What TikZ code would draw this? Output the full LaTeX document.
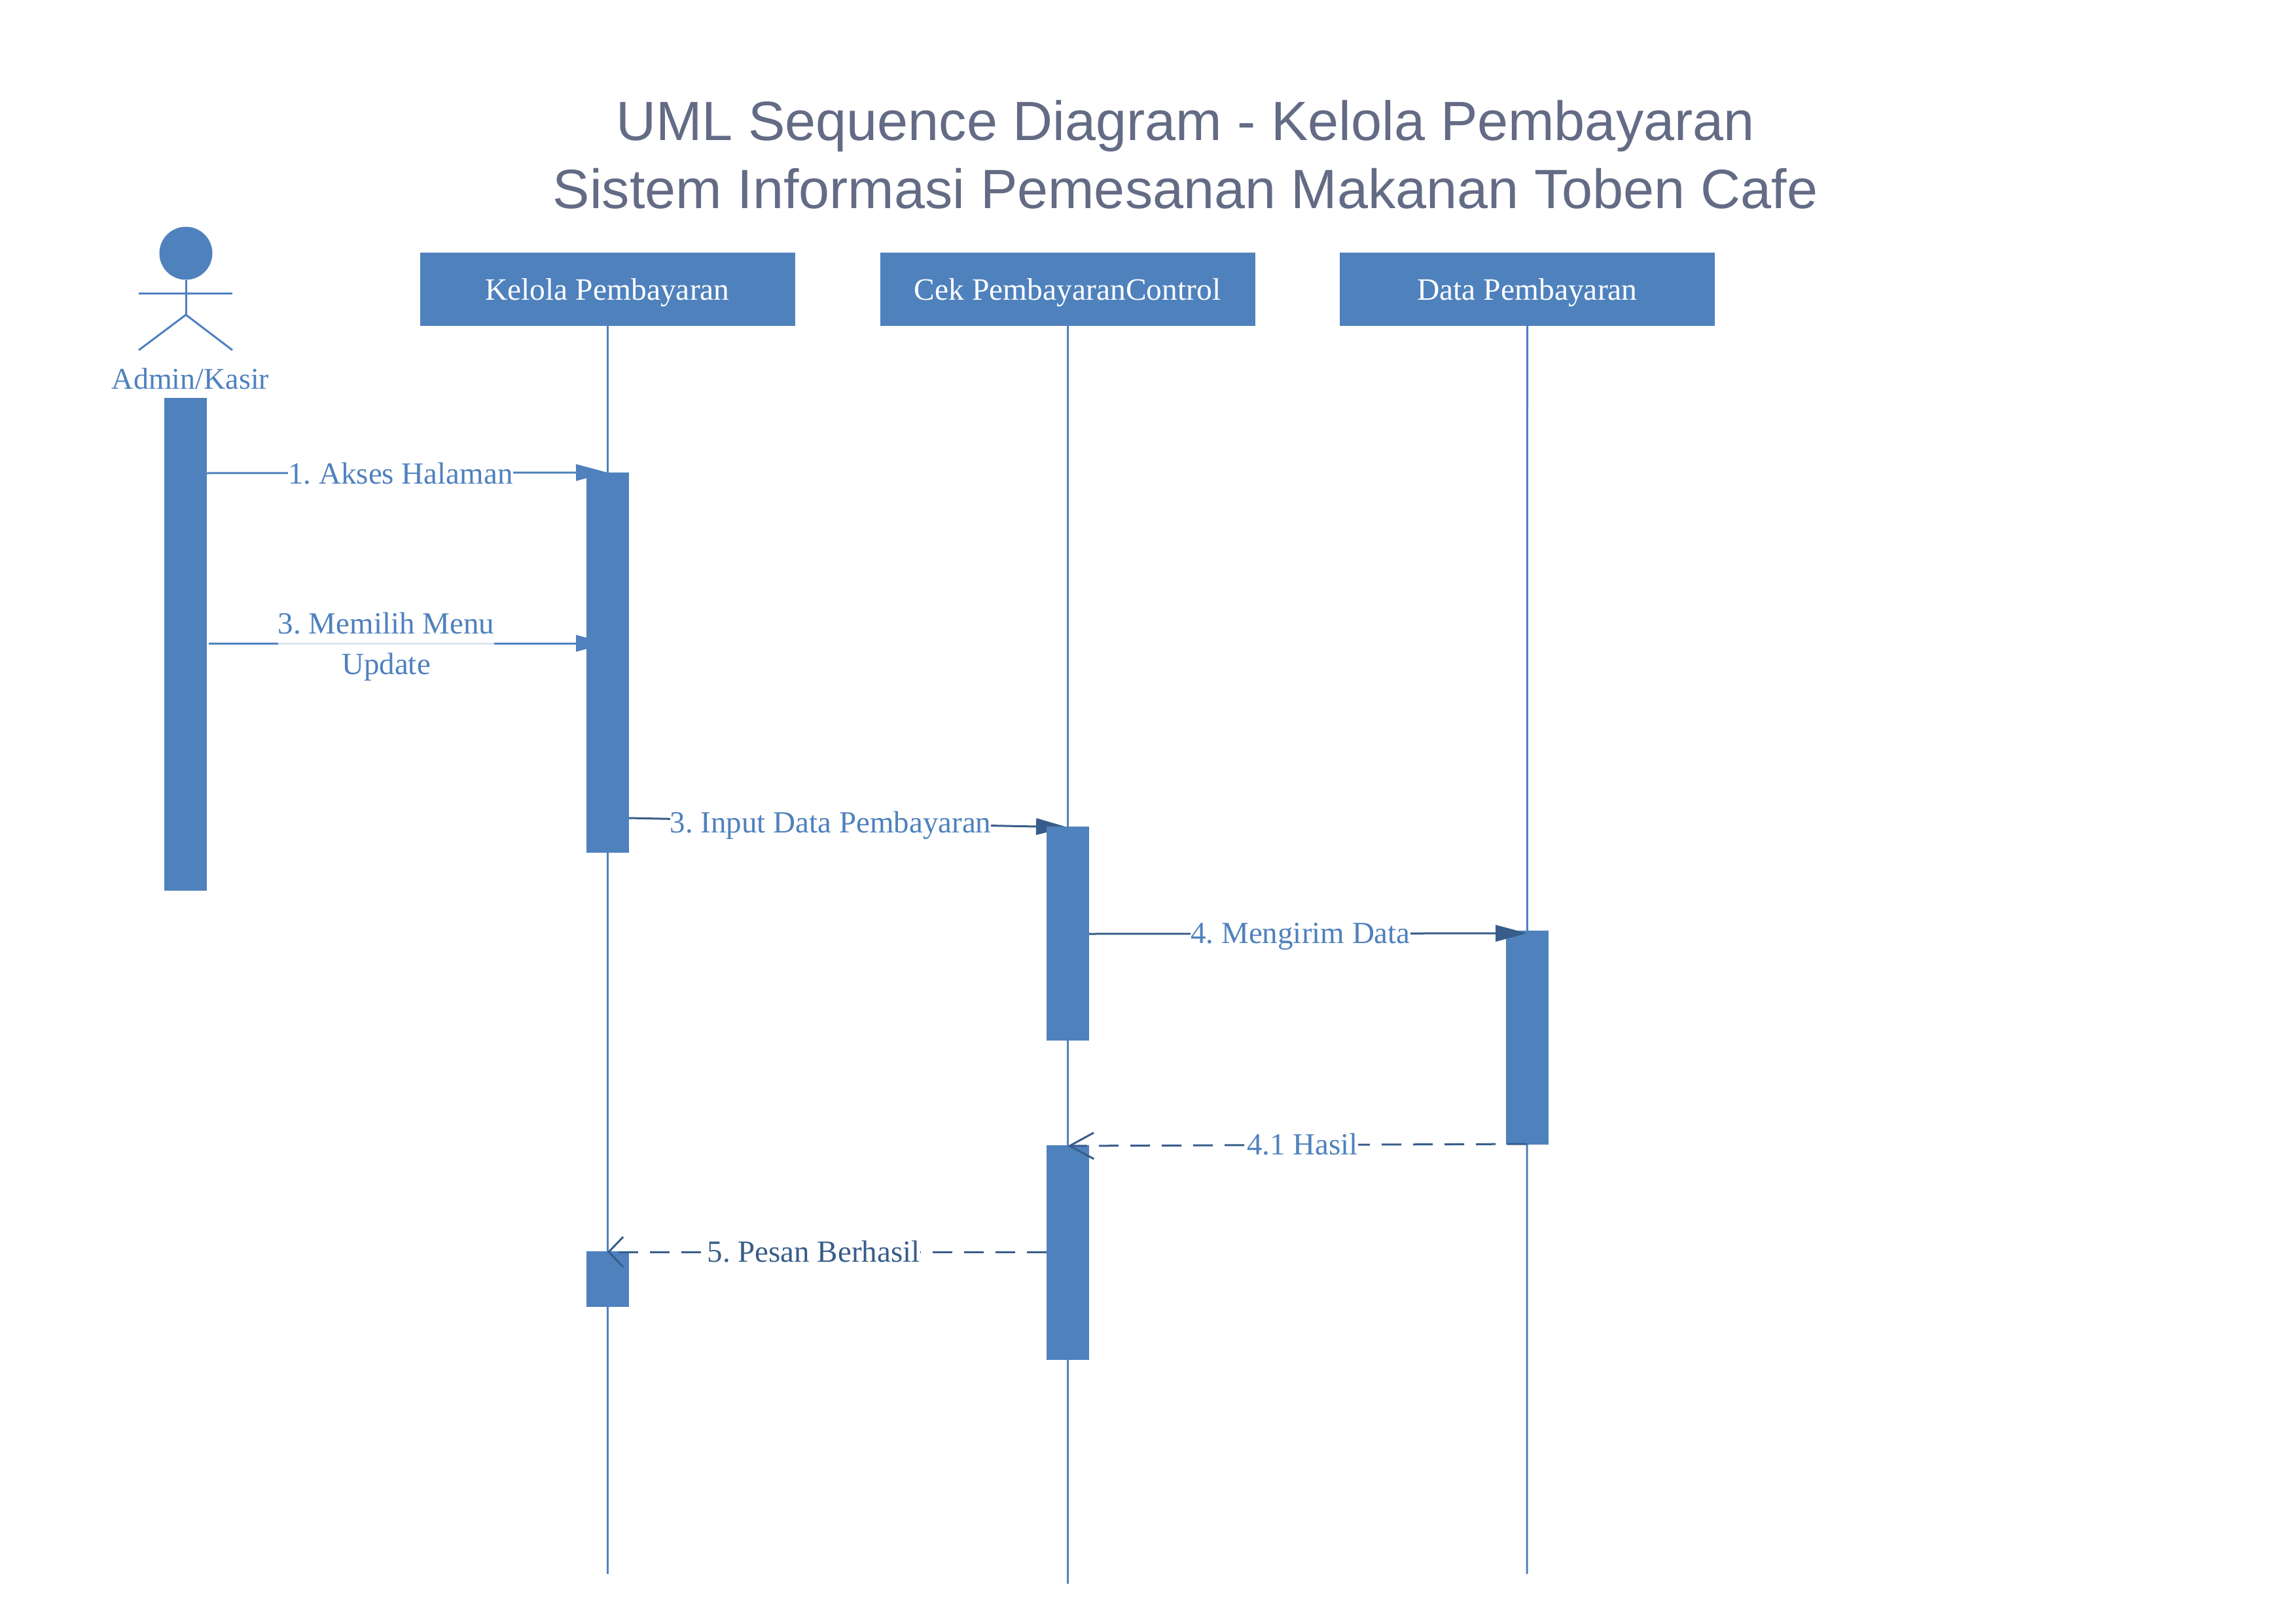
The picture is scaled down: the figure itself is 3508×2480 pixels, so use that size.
\documentclass[tikz,border=0pt]{standalone}
\usepackage{fontspec}
\setmainfont{Liberation Serif}
\newfontfamily\titlefont{Liberation Sans}
\usetikzlibrary{arrows.meta}
\definecolor{umlblue}{HTML}{4F81BD}
\definecolor{umldark}{HTML}{385D8A}
\definecolor{umltitle}{HTML}{636B85}
\newcommand{\boxtext}[1]{\raisebox{-16pt}[0pt][0pt]{#1}}
\tikzset{
  x=1pt,y=-1pt,
  lbl/.style={font=\frenchspacing\fontsize{47}{62}\selectfont,text=umlblue,inner sep=0pt,align=center},
  objbox/.style={rectangle,fill=umlblue,draw=none,minimum width=573pt,minimum height=112pt,inner sep=0pt,text=white,font=\frenchspacing\fontsize{47.5}{61}\selectfont},
  bar/.style={rectangle,fill=umlblue,draw=none,minimum width=65pt,inner sep=0pt,anchor=north},
  life/.style={draw=umlblue,line width=3pt},
  msgup/.style={draw=umlblue,line width=3pt,-{Triangle[length=48pt,width=25pt,color=umlblue]}},
  msg/.style={draw=umldark,line width=3pt,-{Triangle[length=48pt,width=25pt]}},
  ret/.style={draw=umldark,line width=3pt,dash pattern=on 30pt off 18pt},
  retA/.style={ret,-{Straight Barb[length=37pt,width=40pt]}},
  retB/.style={ret,-{Straight Barb[length=22pt,width=46pt]}},
  mlabel/.style={lbl,fill=white},
}
\begin{document}
\begin{tikzpicture}
\useasboundingbox (0,0) rectangle (3508,2480);
% title
\node[font=\titlefont\fontsize{84.6}{104}\selectfont,text=umltitle,align=center,anchor=center,inner sep=0pt] (title) at (1811,236) {UML Sequence Diagram - Kelola Pembayaran\\Sistem Informasi Pemesanan Makanan Toben Cafe};
% objects
\node[objbox] (kelola) at (928,442) {\boxtext{Kelola Pembayaran}};
\node[objbox] (cek) at (1631,442) {\boxtext{Cek PembayaranControl}};
\node[objbox] (data) at (2333.5,442) {\boxtext{Data Pembayaran}};
% lifeline ends
\coordinate (kelolaend) at (928,2405);
\coordinate (cekend) at (1631,2420);
\coordinate (dataend) at (2333,2405);
\draw[life] (kelola.south) -- (kelolaend);
\draw[life] (cek.south) -- (cekend);
\draw[life] (data.south) -- (dataend);
% actor
\node[circle,fill=umlblue,minimum size=81pt,inner sep=0pt] (head) at (284,387) {};
\coordinate (armL) at (212,448);
\coordinate (armR) at (355,448);
\coordinate (hip) at (284,481);
\coordinate (footL) at (212,535);
\coordinate (footR) at (355,535);
\draw[life] (head.south) -- (hip);
\draw[life] (armL) -- (armR);
\draw[life] (footL) -- (hip) -- (footR);
\node[lbl,anchor=base,font=\fontsize{46}{61}\selectfont] (actor) at (291,594) {Admin/Kasir};
% message end points
\coordinate (m1s) at (316,723);
\coordinate (m1e) at (928,722);
\coordinate (m2s) at (319,983);
\coordinate (m2e) at (928,983);
\coordinate (m3s) at (961,1250);
\coordinate (m3e) at (1631,1264);
\coordinate (m4s) at (1664,1427);
\coordinate (m4e) at (2333,1426);
\coordinate (m5s) at (2333,1748);
\coordinate (m5e) at (1631,1751);
\coordinate (m6s) at (1599,1913);
\coordinate (m6e) at (928,1913);
% messages under the bars
\draw[msgup] (m1s) -- (m1e);
\draw[msgup] (m2s) -- (m2e);
\draw[msg] (m3s) -- (m3e);
% activation bars
\node[bar,minimum height=753pt] (barA) at (283.5,608) {};
\node[bar,minimum height=581pt] (barK1) at (928,722) {};
\node[bar,minimum height=85pt] (barK2) at (928,1912) {};
\node[bar,minimum height=327pt] (barC1) at (1631,1263) {};
\node[bar,minimum height=328pt] (barC2) at (1631,1750) {};
\node[bar,minimum height=327pt] (barD) at (2333,1422) {};
% messages over the bars
\draw[msg] (m4s) -- (m4e);
\draw[retA] (m5s) -- (m5e);
\draw[retB] (m6s) -- (m6e);
% labels
\node[mlabel,anchor=base] (l1) at (612,739) {1. Akses Halaman};
\node[lbl,anchor=base,fill=white,fill opacity=.8,text opacity=1] (l2) at (590,1030) {3. Memilih Menu\\Update};
\node[mlabel,anchor=base] (l3) at (1269,1272) {3. Input Data Pembayaran};
\node[mlabel,anchor=base] (l4) at (1987,1441) {4. Mengirim Data};
\node[mlabel,anchor=base] (l5) at (1990,1764) {4.1 Hasil};
\node[mlabel,anchor=base,text=umldark] (l6) at (1243,1928) {5. Pesan Berhasil};
\end{tikzpicture}
\end{document}
